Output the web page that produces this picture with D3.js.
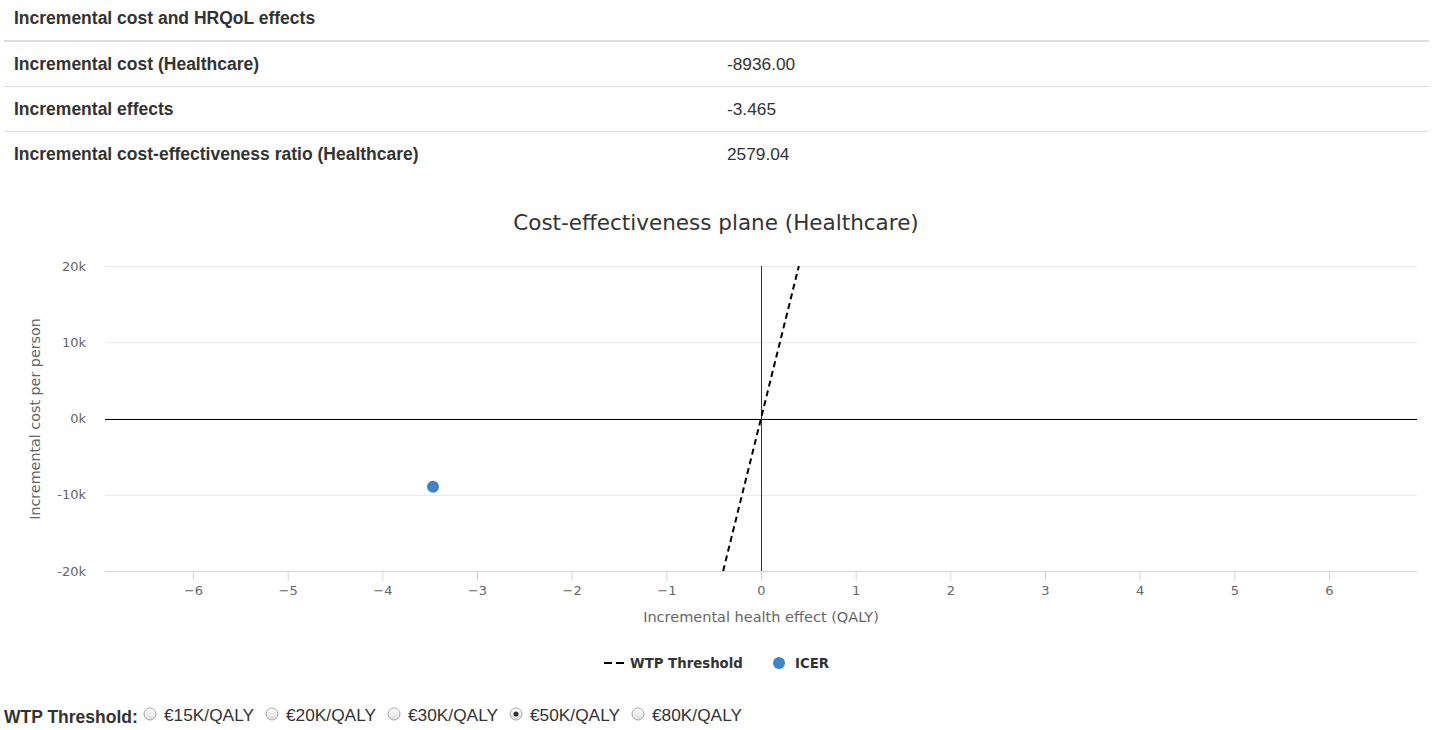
<!DOCTYPE html>
<html><head><meta charset="utf-8">
<script src="https://cdn.jsdelivr.net/npm/d3@7"></script>
<style>
html,body{margin:0;padding:0;background:#fff;}
svg{display:block;}
</style></head>
<body>
<svg id="chart" width="1437" height="730"></svg>
<script>
// ---- data ----
const tableTitle = "Incremental cost and HRQoL effects";
const tableLabels = ["Incremental cost (Healthcare)", "Incremental effects", "Incremental cost-effectiveness ratio (Healthcare)"];
const tableValues = ["-8936.00", "-3.465", "2579.04"];
const icerEffect = [-3.465];
const icerCost = [-8936];
const xTicks = [-6,-5,-4,-3,-2,-1,0,1,2,3,4,5,6];
const yTicks = [-20000,-10000,0,10000,20000];
const wtpOptions = [15000,20000,30000,50000,80000];
const wtpLabels = ["€15K/QALY","€20K/QALY","€30K/QALY","€50K/QALY","€80K/QALY"];
const selectedWtp = 50000;
const chartTitle = "Cost-effectiveness plane (Healthcare)";
const xTitle = "Incremental health effect (QALY)";
const yTitle = "Incremental cost per person";
const legendLabels = ["WTP Threshold", "ICER"];

const svg = d3.select("#chart");
const tFont = "'Liberation Sans', Arial, sans-serif";
const cFont = "'DejaVu Sans', sans-serif";

// ---- table ----
svg.append("text").attr("x",14).attr("y",24).attr("font-family",tFont).attr("font-weight","bold")
  .attr("font-size",17.5).attr("fill","#333").text(tableTitle);
svg.append("rect").attr("x",4).attr("y",40).attr("width",1425).attr("height",2).attr("fill","#ddd");
const rowY = d3.scaleLinear().domain([0,1]).range([64,109]);
tableLabels.forEach((l,i)=>{
  const y = rowY(i);
  svg.append("text").attr("x",14).attr("y",y+6).attr("font-family",tFont).attr("font-weight","bold")
    .attr("font-size",17.5).attr("fill","#333").text(l);
  svg.append("text").attr("x",727).attr("y",y+6).attr("font-family",tFont)
    .attr("font-size",17.3).attr("fill","#333").text(tableValues[i]);
  if(i<tableLabels.length-1)
    svg.append("rect").attr("x",4).attr("y",y+22).attr("width",1425).attr("height",1).attr("fill","#ddd");
});

// ---- chart ----
const L=105, R=1417, T=266, B=571;
const xMax = Math.abs(icerEffect[0])*2;
const x = d3.scaleLinear().domain([-xMax,xMax]).range([L,R]);
const y = d3.scaleLinear().domain([-20000,20000]).range([B,T]);

svg.append("text").attr("x",716).attr("y",230).attr("text-anchor","middle").attr("font-family",cFont)
  .attr("font-size",21.5).attr("fill","#333").text(chartTitle);

// grid
const yAxis = d3.axisLeft(y).tickValues(yTicks).tickSize(-(R-L)).tickFormat(d=>(d/1000)+"k").tickPadding(19);
const gy = svg.append("g").attr("transform",`translate(${L},0)`).call(yAxis);
gy.select(".domain").remove();
gy.selectAll(".tick line").attr("stroke","#e6e6e6");
gy.selectAll(".tick text").attr("font-family",cFont).attr("font-size",13).attr("fill","#666");

const xAxis = d3.axisBottom(x).tickValues(xTicks).tickSize(10).tickPadding(5).tickFormat(d=>d<0?"−"+Math.abs(d):d);
const gx = svg.append("g").attr("transform",`translate(0,${B})`).call(xAxis);
gx.select(".domain").attr("stroke","#ccd6eb").attr("d",`M${L},0.5H${R}`);
gx.selectAll(".tick line").attr("stroke","#ccd6eb");
gx.selectAll(".tick text").attr("font-family",cFont).attr("font-size",13).attr("fill","#666");

// zero lines
svg.append("line").attr("x1",L).attr("x2",R).attr("y1",Math.round(y(0))+0.5).attr("y2",Math.round(y(0))+0.5).attr("stroke","#000");
svg.append("line").attr("x1",Math.round(x(0))+0.5).attr("x2",Math.round(x(0))+0.5).attr("y1",T).attr("y2",B).attr("stroke","#333");

// WTP line
const wtpLine = [[-20000/selectedWtp,-20000],[20000/selectedWtp,20000]];
svg.append("path").attr("d",d3.line().x(d=>x(d[0])).y(d=>y(d[1]))(wtpLine))
  .attr("stroke","#000").attr("stroke-width",2).attr("stroke-dasharray","6,4").attr("fill","none");

// ICER point
svg.selectAll("circle.icer").data(icerEffect).join("circle").attr("class","icer")
  .attr("cx",d=>x(d)).attr("cy",(d,i)=>y(icerCost[i])).attr("r",6).attr("fill","#3d85c6");

// axis titles
svg.append("text").attr("x",761).attr("y",622).attr("text-anchor","middle").attr("font-family",cFont)
  .attr("font-size",14.5).attr("fill","#666").text(xTitle);
svg.append("text").attr("transform","translate(40,419) rotate(-90)").attr("text-anchor","middle").attr("font-family",cFont)
  .attr("font-size",14.3).attr("fill","#666").text(yTitle);

// legend
svg.append("path").attr("d","M604,663H624").attr("stroke","#000").attr("stroke-width",2).attr("stroke-dasharray","8,4");
svg.append("text").attr("x",630).attr("y",668).attr("font-family",cFont).attr("font-weight","bold")
  .attr("font-size",13.3).attr("fill","#333").text(legendLabels[0]);
svg.append("circle").attr("cx",779).attr("cy",663).attr("r",6).attr("fill","#3d85c6");
svg.append("text").attr("x",795).attr("y",668).attr("font-family",cFont).attr("font-weight","bold")
  .attr("font-size",13.3).attr("fill","#333").text(legendLabels[1]);

// radios
svg.append("text").attr("x",4).attr("y",723).attr("font-family",tFont).attr("font-weight","bold")
  .attr("font-size",17.5).attr("fill","#333").text("WTP Threshold:");
const rx = d3.scaleLinear().domain([0,1]).range([150,272]);
const defs = svg.append("defs");
const grad = defs.append("linearGradient").attr("id","rg").attr("x1",0).attr("y1",0).attr("x2",0).attr("y2",1);
grad.append("stop").attr("offset","0").attr("stop-color","#fff");
grad.append("stop").attr("offset","1").attr("stop-color","#ddd");
wtpOptions.forEach((w,i)=>{
  const cx = rx(i);
  svg.append("circle").attr("cx",cx).attr("cy",714).attr("r",6).attr("fill","url(#rg)").attr("stroke","#aaa");
  if(w===selectedWtp) svg.append("circle").attr("cx",cx).attr("cy",714).attr("r",2.5).attr("fill","#333");
  svg.append("text").attr("x",cx+14).attr("y",721).attr("font-family",tFont)
    .attr("font-size",17.3).attr("fill","#333").text(wtpLabels[i]);
});
</script>
</body></html>
